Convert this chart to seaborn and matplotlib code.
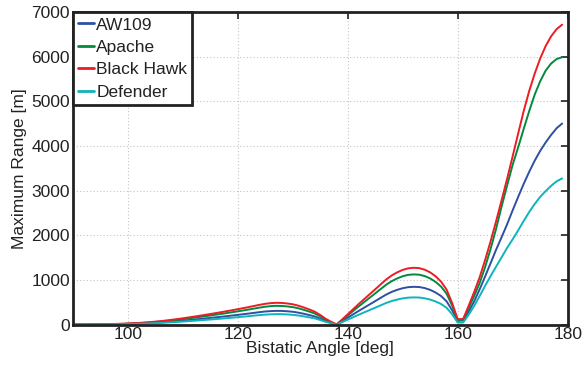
import numpy as np
import pandas as pd
import matplotlib
matplotlib.use("Agg")
import matplotlib.pyplot as plt
import seaborn as sns

angles = list(range(90, 180))

aw109 = [0, 1, 1, 2, 3, 4, 6, 8, 9, 12,
         15, 19, 23, 28, 35, 42, 49, 58, 67, 77,
         88, 100, 112, 123, 136, 149, 162, 175, 189, 203,
         217, 232, 247, 263, 279, 293, 302, 307, 306, 298,
         287, 268, 243, 214, 183, 135, 82, 38, 2, 76,
         153, 229, 306, 379, 452, 525, 599, 672, 732, 778,
         815, 838, 846, 841, 818, 778, 718, 638, 519, 319,
         85, 90, 290, 520, 790, 1080, 1380, 1680, 1960, 2250,
         2560, 2860, 3150, 3420, 3670, 3890, 4080, 4250, 4400, 4505]

apache = [0, 1, 2, 3, 4, 6, 8, 10, 13, 16,
          21, 26, 32, 39, 47, 57, 67, 79, 92, 106,
          120, 136, 152, 169, 186, 203, 221, 239, 258, 277,
          297, 316, 337, 359, 381, 400, 413, 420, 417, 407,
          391, 366, 331, 292, 249, 185, 112, 52, 3, 102,
          203, 305, 407, 504, 601, 698, 796, 893, 972, 1034,
          1083, 1114, 1124, 1118, 1087, 1034, 955, 849, 690, 425,
          105, 110, 370, 640, 930, 1290, 1700, 2150, 2650, 3120,
          3580, 3970, 4380, 4780, 5150, 5450, 5690, 5850, 5950, 5990]

black_hawk = [0, 1, 2, 3, 5, 7, 9, 12, 15, 19,
              24, 30, 37, 45, 55, 66, 78, 92, 107, 123,
              140, 158, 177, 196, 216, 236, 257, 278, 300, 322,
              345, 368, 392, 418, 443, 465, 480, 488, 485, 473,
              455, 425, 385, 340, 290, 215, 130, 60, 3, 115,
              230, 345, 460, 570, 680, 790, 900, 1010, 1100, 1170,
              1225, 1260, 1272, 1265, 1230, 1170, 1080, 960, 780, 480,
              120, 125, 420, 730, 1060, 1450, 1870, 2320, 2790, 3270,
              3770, 4280, 4780, 5230, 5620, 5960, 6240, 6460, 6620, 6720]

defender = [0, 0, 1, 1, 2, 3, 4, 6, 7, 9,
            12, 14, 18, 22, 26, 32, 37, 44, 51, 59,
            67, 76, 85, 94, 104, 113, 123, 133, 144, 155,
            166, 177, 188, 201, 213, 223, 230, 234, 233, 227,
            218, 204, 185, 163, 139, 103, 62, 29, 2, 55,
            110, 165, 220, 273, 326, 378, 431, 484, 527, 560,
            587, 604, 609, 606, 589, 560, 517, 460, 374, 230,
            45, 45, 220, 420, 640, 870, 1090, 1300, 1510, 1720,
            1910, 2110, 2320, 2520, 2700, 2860, 2990, 3110, 3210, 3275]

series_names = ["AW109", "Apache", "Black Hawk", "Defender"]
series_values = [aw109, apache, black_hawk, defender]
colors = ["#2f4fa3", "#008a3e", "#ec1c24", "#0db4bb"]

x_ticks = [100, 120, 140, 160, 180]
y_ticks = [0, 1000, 2000, 3000, 4000, 5000, 6000, 7000]

rows = []
for name, vals in zip(series_names, series_values):
    for a, v in zip(angles, vals):
        rows.append({"angle": a, "range": v, "heli": name})
df = pd.DataFrame(rows)

sns.set_theme(style="white")
plt.rcParams["font.family"] = ["Liberation Sans", "DejaVu Sans"]
plt.rcParams["xtick.direction"] = "in"
plt.rcParams["ytick.direction"] = "in"

fig = plt.figure(figsize=(5.84, 3.68), dpi=100)
ax = fig.add_axes([0.1245, 0.118, 0.8475, 0.849])

sns.lineplot(data=df, x="angle", y="range", hue="heli",
             hue_order=series_names, palette=colors,
             linewidth=1.4, ax=ax, legend=True)

ax.set_xlim(90, 180)
ax.set_ylim(0, 7000)
ax.set_xticks(x_ticks)
ax.set_yticks(y_ticks)
ax.set_xticklabels([str(t) for t in x_ticks])
ax.set_yticklabels([str(t) for t in y_ticks])
ax.tick_params(axis="both", which="both", direction="in", length=5, width=1.2,
               labelsize=12.5, colors="#222222", top=True, right=True, pad=2,
               labelcolor="#222222")
ax.grid(True, linestyle=(0, (1, 2)), color="#c4c4c4", linewidth=0.8)
for s in ax.spines.values():
    s.set_color("#222222")
    s.set_linewidth(2)
    s.set_visible(True)

ax.set_xlabel("Bistatic Angle [deg]", fontsize=12.5, color="#222222", labelpad=-1)
ax.set_ylabel("Maximum Range [m]", fontsize=12.5, color="#222222", labelpad=3)

leg = ax.legend(loc="upper left", fontsize=12.5, frameon=True, fancybox=False,
                handlelength=0.9, handletextpad=0.15, borderpad=0.3,
                labelspacing=0.42, borderaxespad=0.0)
leg.get_frame().set_edgecolor("#222222")
leg.get_frame().set_linewidth(2)
leg.get_frame().set_facecolor("white")
leg.get_frame().set_alpha(1)
for t in leg.get_texts():
    t.set_color("#222222")
for h in leg.get_lines():
    h.set_linewidth(2)

fig.savefig("out.png", dpi=100, facecolor="white")
